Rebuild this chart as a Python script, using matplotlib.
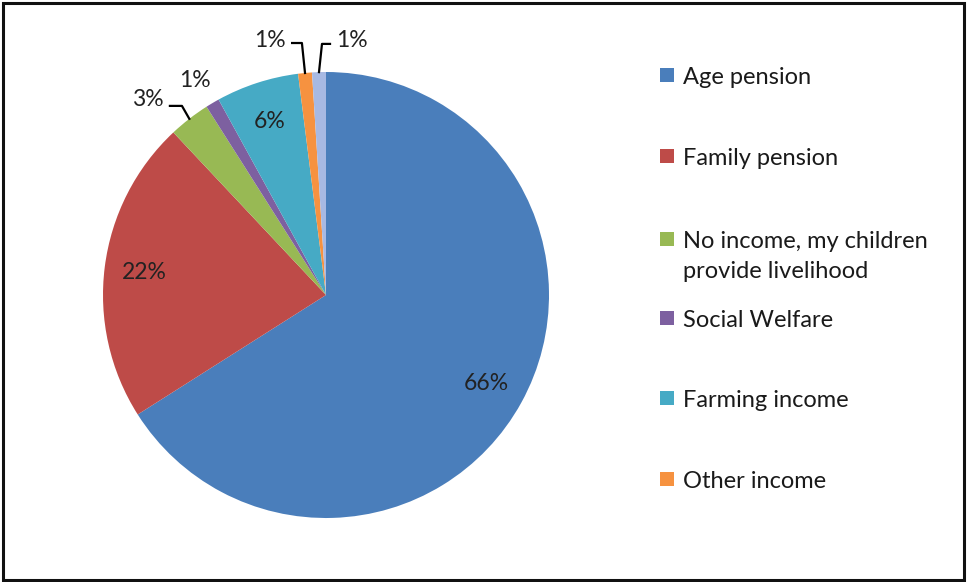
import matplotlib
matplotlib.use('Agg')
import matplotlib.pyplot as plt
import matplotlib.patches as mpatches
import numpy as np

plt.rcParams['font.family'] = ['Lato', 'DejaVu Sans']

# income sources of respondents (%)
categories = ['Age pension', 'Family pension',
              'No income, my children\nprovide livelihood',
              'Social Welfare', 'Farming income', 'Other income', 'Other']
shares = [66, 22, 3, 1, 6, 1, 1]
colors = ['#4A7EBB', '#BE4B48', '#98B954', '#7D60A0', '#46AAC5', '#F69240', '#A7B9E3']
legend_count = 6

# label placement for the thin slices: (text x, text y), elbow points or None
outside_labels = {
    2: ((-0.80, 0.875), [(-0.70, 0.848), (-0.646, 0.848)]),
    3: ((-0.59, 0.960), None),
    5: ((-0.25, 1.143), [(-0.152, 1.13), (-0.108, 1.13)]),
    6: ((0.115, 1.143), [(0.018, 1.126), (-0.018, 1.126)]),
}

W, H = 967, 582
fig = plt.figure(figsize=(W / 100, H / 100), dpi=100)
fig.patch.set_facecolor('white')

cx, cy, r = 326, 295, 223
ax = fig.add_axes([(cx - r) / W, (H - cy - r) / H, 2 * r / W, 2 * r / H])
wedges, _ = ax.pie(shares, colors=colors, startangle=90, counterclock=False,
                   wedgeprops=dict(linewidth=0))
ax.set_xlim(-1, 1)
ax.set_ylim(-1, 1)
ax.set_aspect('equal')
ax.axis('off')

pct_size = 16.5
for i, (w, s) in enumerate(zip(wedges, shares)):
    mid = np.deg2rad((w.theta1 + w.theta2) / 2)
    txt = f'{s}%'
    if i in outside_labels:
        (tx, ty), elbow = outside_labels[i]
        ax.text(tx, ty, txt, ha='center', va='center', fontsize=pct_size,
                color='#222222', clip_on=False)
        if elbow:
            xs, ys = zip(*(elbow + [(np.cos(mid), np.sin(mid))]))
            ax.plot(xs, ys, color='black', lw=1.6, clip_on=False)
    else:
        d = 0.82
        ax.text(d * np.cos(mid), d * np.sin(mid), txt, ha='center', va='center',
                fontsize=pct_size, color='#222222')

# legend, one entry per row on the right (y of first text line, px from top)
legend_y = [75, 156, 239, 318, 398, 479]
for i in range(legend_count):
    y = legend_y[i]
    fig.patches.append(mpatches.Rectangle((660 / W, (H - y - 7) / H), 14 / W, 14 / H,
                                          transform=fig.transFigure,
                                          facecolor=colors[i], edgecolor='none'))
    lines = categories[i].split('\n')
    for k, line in enumerate(lines):
        fig.text(683 / W, (H - y - 9 - 30 * k) / H, line, ha='left',
                 va='baseline', fontsize=17, color='#1a1a1a')

# outer frame
fig.patches.append(mpatches.Rectangle((3 / W, 2 / H), (W - 6) / W, (H - 5) / H,
                                      transform=fig.transFigure, fill=False,
                                      edgecolor='#111111', linewidth=2.2))

fig.savefig('out.png', dpi=100, facecolor='white')
